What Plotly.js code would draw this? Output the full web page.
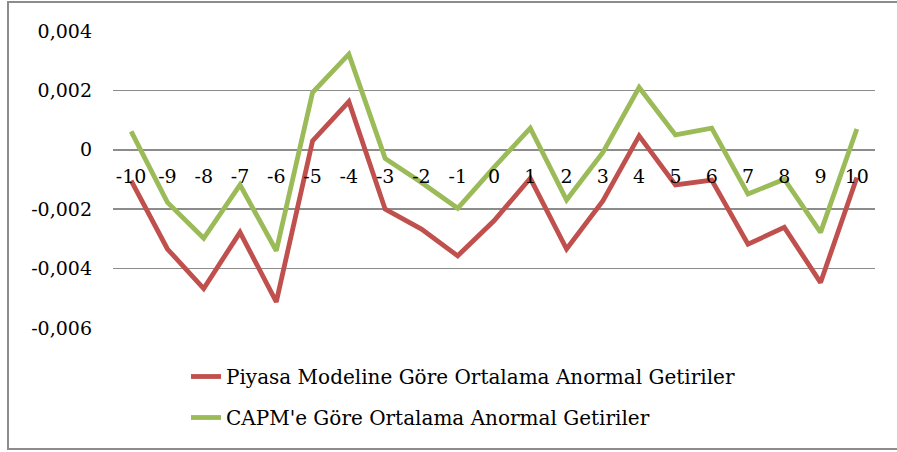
<!DOCTYPE html>
<html>
<head>
<meta charset="utf-8">
<script src="https://cdn.plot.ly/plotly-3.0.1.min.js"></script>
<style>
html,body{margin:0;padding:0;background:#fff;}
#chart{width:897px;height:452px;}
</style>
</head>
<body>
<div id="chart"></div>
<script>
const categories = ["-10","-9","-8","-7","-6","-5","-4","-3","-2","-1","0","1","2","3","4","5","6","7","8","9","10"];
const piyasaValues = [-0.00104,-0.00334,-0.00467,-0.00278,-0.00512,0.0003,0.00162,-0.002,-0.00267,-0.00357,-0.00239,-0.00096,-0.00334,-0.00172,0.00047,-0.00118,-0.00102,-0.00318,-0.00261,-0.00447,-0.00093];
const capmValues = [0.00062,-0.00177,-0.00298,-0.00118,-0.0034,0.00193,0.00322,-0.00029,-0.0011,-0.00197,-0.00059,0.00073,-0.00169,-0.00009,0.0021,0.0005,0.00073,-0.00149,-0.00099,-0.00278,0.0007];
const seriesNames = ["Piyasa Modeline Göre Ortalama Anormal Getiriler","CAPM'e Göre Ortalama Anormal Getiriler"];
const yTickVals = [-0.006,-0.004,-0.002,0,0.002,0.004];
const yTickText = ["-0,006","-0,004","-0,002","0","0,002","0,004"];

const W = 897, H = 452;
const L = 113, R = 22, T = 31, B = 124;
const pw = W - L - R, ph = H - T - B;
const font = "DejaVu Serif, Liberation Serif, serif";
const fs = 19;

const traces = [
  {x: categories, y: piyasaValues, name: seriesNames[0], type: 'scatter', mode: 'lines',
   legendgroup: 'a', line: {color: '#C0504D', width: 4.8}},
  {x: categories, y: capmValues, name: seriesNames[1], type: 'scatter', mode: 'lines',
   legendgroup: 'b', line: {color: '#9BBB59', width: 4.8}}
];

const layout = {
  width: W, height: H,
  margin: {l: L, r: R, t: T, b: B, pad: 0, autoexpand: false},
  paper_bgcolor: '#ffffff', plot_bgcolor: '#ffffff',
  font: {family: font, size: fs, color: '#000000'},
  showlegend: true,
  separators: ', ',
  xaxis: {
    type: 'category', range: [-0.5, 20.5],
    anchor: 'free', position: 0.6,
    showgrid: false, showline: false, zeroline: false,
    ticks: '', tickangle: 0, automargin: false,
    tickfont: {family: font, size: fs, color: '#000'},
    fixedrange: true, ticklabelstandoff: 13
  },
  yaxis: {
    range: [-0.006, 0.004],
    tickvals: yTickVals, ticktext: yTickText,
    showgrid: true, gridcolor: '#8c8c8c', gridwidth: 1.5,
    zeroline: false, showline: false, ticks: '', automargin: false,
    ticklabelstandoff: 20,
    tickfont: {family: font, size: fs, color: '#000'},
    fixedrange: true
  },
  legend: {
    xref: 'container', yref: 'container',
    x: 186 / W, y: 1 - 357 / H, xanchor: 'left', yanchor: 'top',
    orientation: 'v', bgcolor: 'rgba(0,0,0,0)',
    font: {family: font, size: 20, color: '#000'},
    tracegroupgap: 12, itemwidth: 30
  },
  shapes: [{
    type: 'rect', xref: 'paper', yref: 'paper',
    x0: (8 - L) / pw, x1: (905 - L) / pw,
    y0: (H - 449 - B) / ph, y1: (H - 2 - B) / ph,
    line: {color: '#8c8c8c', width: 2}, fillcolor: 'rgba(0,0,0,0)', layer: 'below'
  }]
};

Plotly.newPlot('chart', traces, layout, {staticPlot: true, displayModeBar: false});
</script>
</body>
</html>
